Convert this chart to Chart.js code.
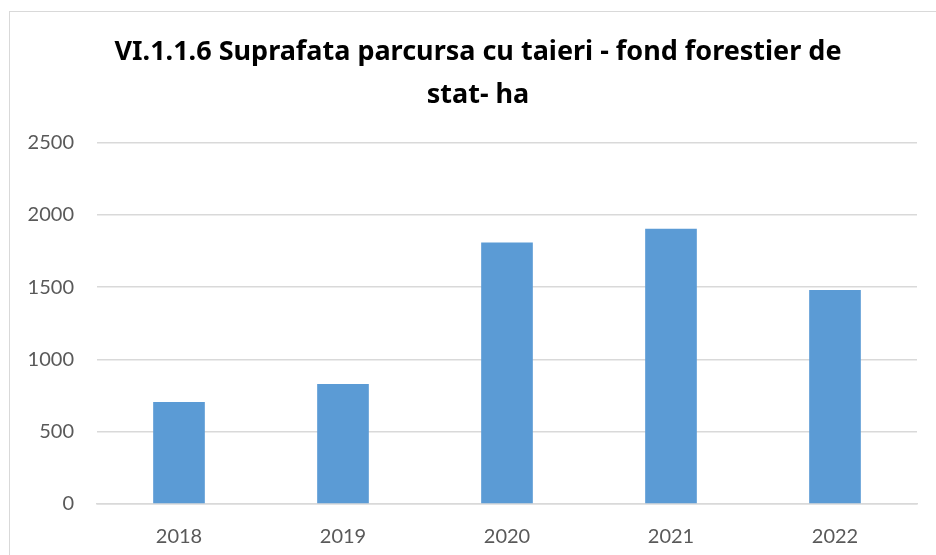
<!DOCTYPE html>
<html>
<head>
<meta charset="utf-8">
<script src="https://cdn.jsdelivr.net/npm/chart.js@4.4.0/dist/chart.umd.min.js"></script>
<style>
  html, body { margin: 0; padding: 0; background: #fff; overflow: hidden; width: 936px; height: 555px; }
  #frame {
    position: absolute; left: 9px; top: 11px;
    width: 1000px; height: 600px;
    border: 1.5px solid #d9d9d9;
  }
  /* canvas is a bit wider than the window so the title centres on the frame */
  #wrap { position: absolute; left: 0; top: 0; width: 956px; height: 555px; }
</style>
</head>
<body>
<div id="frame"></div>
<div id="wrap"><canvas id="chart"></canvas></div>
<script>
// chart data
const years = ['2018', '2019', '2020', '2021', '2022'];
const surface = [706, 830, 1808, 1904, 1479];
const titleLines = ['VI.1.1.6 Suprafata parcursa cu taieri - fond forestier de', 'stat- ha'];

document.addEventListener('DOMContentLoaded', () => {
    const ctx = document.getElementById('chart');

    const config = {
        type: 'bar',
        data: {
            labels: years,
            datasets: [{
                data: surface,
                backgroundColor: '#5b9bd5',
                borderWidth: 0,
                barPercentage: 0.315,
                categoryPercentage: 1
            }]
        },
        options: {
            responsive: true,
            maintainAspectRatio: false,
            animation: false,
            layout: { padding: 0 },
            plugins: {
                legend: { display: false },
                tooltip: { enabled: false },
                title: {
                    display: true,
                    text: titleLines,
                    color: '#000000',
                    font: { family: "'Noto Sans', sans-serif", size: 27, weight: 'bold', lineHeight: 1.62 },
                    padding: { top: 30, bottom: 25 }
                }
            },
            scales: {
                x: {
                    grid: { display: false },
                    border: { display: true, color: '#d9d9d9', width: 1.5 },
                    ticks: {
                        color: '#595959',
                        padding: 13,
                        font: { family: "'Lato', sans-serif", size: 20 }
                    },
                    afterFit: (scale) => { scale.height = 51; }
                },
                y: {
                    min: 0,
                    max: 2500,
                    ticks: {
                        stepSize: 500,
                        color: '#595959',
                        padding: 23,
                        font: { family: "'Lato', sans-serif", size: 20 },
                        callback: (v) => String(v)
                    },
                    grid: { color: '#d9d9d9', lineWidth: 1.5, drawTicks: false },
                    border: { display: false },
                    afterFit: (scale) => { scale.width = 97; }
                },
                // empty spacer on the right
                yRight: {
                    position: 'right',
                    min: 0,
                    max: 2500,
                    ticks: { display: false },
                    grid: { display: false },
                    border: { display: false },
                    afterFit: (scale) => { scale.width = 39; }
                }
            }
        }
    };

    new Chart(ctx, config);
});
</script>
</body>
</html>
